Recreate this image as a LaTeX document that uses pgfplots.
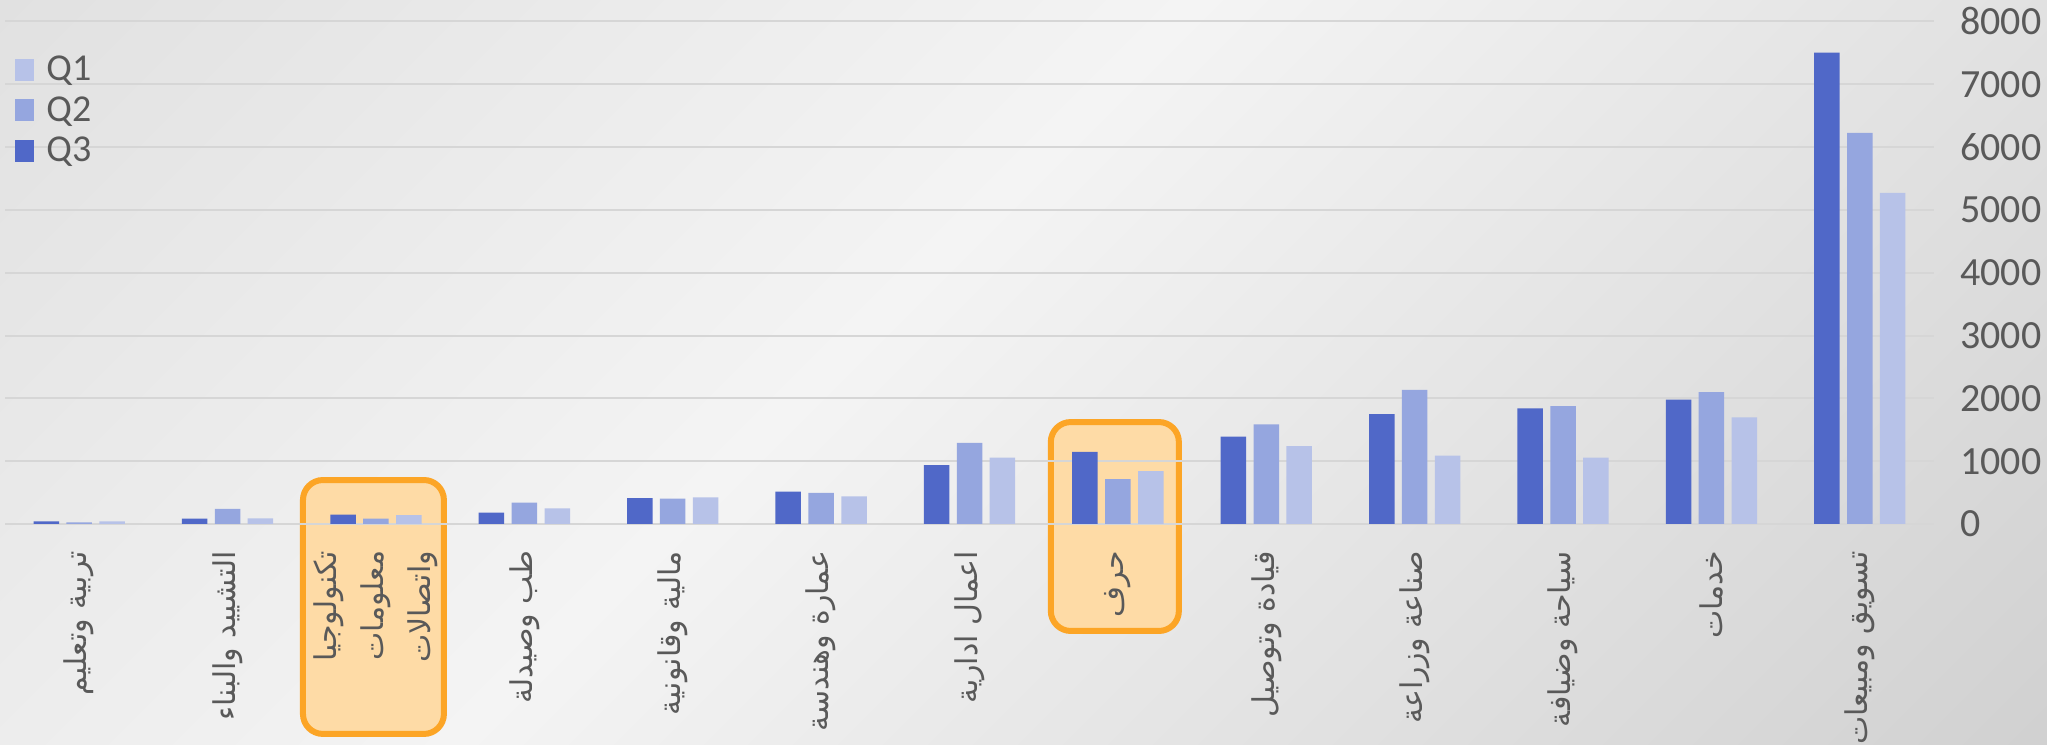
\documentclass[border=0pt]{standalone}
\usepackage{pgfplots}
\pgfplotsset{compat=1.18}
\usepackage{fontspec}
\setmainfont{Carlito}
\newfontfamily\arabicfont[Script=Arabic]{DejaVu Sans}
\TeXXeTstate=1

\definecolor{qthree}{HTML}{5068C8}
\definecolor{qtwo}{HTML}{95A6DF}
\definecolor{qone}{HTML}{B7C2E8}
\definecolor{txtgray}{HTML}{595959}
\definecolor{gridgray}{HTML}{D6D6D6}
\definecolor{boxedge}{HTML}{FCA526}
\definecolor{boxfill}{HTML}{FEDBA6}
\definecolor{bgA}{HTML}{D8D8D8}
\definecolor{bgB}{HTML}{F4F4F4}
\definecolor{bgC}{HTML}{C4C4C4}
\pgfdeclarehorizontalshading{bgshade}{100bp}{color(0bp)=(bgA); color(45bp)=(bgB); color(100bp)=(bgC)}

\begin{document}
\begin{tikzpicture}
\begin{axis}[
  at={(2.5pt,110.5pt)}, anchor=south west,
  scale only axis, width=964.5pt, height=251.3pt,
  set layers, clip=false,
  ybar=3.7pt, bar width=12.75pt,
  xmin=-0.5, xmax=12.5, ymin=0, ymax=8000,
  xtick={0,...,12},
  xticklabels={
    {\beginR تربية وتعليم\endR},
    {\beginR التشييد والبناء\endR},
    {\beginR تكنولوجيا\endR\\\beginR معلومات\endR\\\beginR واتصالات\endR},
    {\beginR طب وصيدلة\endR},
    {\beginR مالية وقانونية\endR},
    {\beginR عمارة وهندسة\endR},
    {\beginR اعمال ادارية\endR},
    {\beginR حرف\endR},
    {\beginR قيادة وتوصيل\endR},
    {\beginR صناعة وزراعة\endR},
    {\beginR سياحة وضيافة\endR},
    {\beginR خدمات\endR},
    {\beginR تسويق ومبيعات\endR}},
  xticklabel style={rotate=90, anchor=east, align=right, inner sep=0pt,
    font=\arabicfont\fontsize{15}{23.5}\selectfont, text=txtgray},
  xticklabel shift=9pt,
  ytick={0,1000,...,8000},
  yticklabel pos=right,
  yticklabel style={anchor=west, inner sep=0pt, xshift=13pt,
    font=\fontsize{20}{22}\selectfont, text=txtgray},
  /pgf/number format/assume math mode=true,
  /pgf/number format/1000 sep={},
  ymajorgrids, grid style={draw=gridgray, line width=1pt},
  axis line style={draw=none}, major tick style={draw=none},
  legend style={at={(0.0052,0.94)}, anchor=north west, draw=none, fill=none,
    inner sep=0pt, row sep=2.5pt, column sep=4pt,
    font=\fontsize{19}{20}\selectfont, text=txtgray},
  legend cell align=left,
  reverse legend,
  legend image code/.code={\fill[#1] (0pt,-5.5pt) rectangle (9.5pt,5.5pt);},
]
\begin{pgfonlayer}{axis background}
\shade[shading=bgshade, shading angle=-45]
  (rel axis cs:-0.00259,-0.43971) rectangle (rel axis cs:1.05858,1.04258);
\draw[line width=3pt, draw=boxedge, fill=boxfill, rounded corners=10pt]
  (axis cs:1.508,-3342) rectangle (axis cs:2.458,700);
\draw[line width=3pt, draw=boxedge, fill=boxfill, rounded corners=10pt]
  (axis cs:6.548,-1703) rectangle (axis cs:7.411,1623);
\end{pgfonlayer}
% Q3
\addplot[fill=qthree, draw=none] coordinates {(0,40) (1,85) (2,150) (3,180) (4,410) (5,515) (6,936) (7,1150) (8,1390) (9,1750) (10,1840) (11,1980) (12,7505)};
% Q2
\addplot[fill=qtwo, draw=none] coordinates {(0,25) (1,240) (2,85) (3,340) (4,405) (5,495) (6,1290) (7,713) (8,1585) (9,2133) (10,1878) (11,2101) (12,6225)};
% Q1
\addplot[fill=qone, draw=none] coordinates {(0,40) (1,90) (2,140) (3,250) (4,425) (5,440) (6,1058) (7,840) (8,1239) (9,1090) (10,1058) (11,1697) (12,5270)};
\legend{Q3,Q2,Q1}
\end{axis}
\pgfresetboundingbox
\path[use as bounding box] (0,0) rectangle (1023.5pt,372.5pt);
\end{tikzpicture}
\end{document}
